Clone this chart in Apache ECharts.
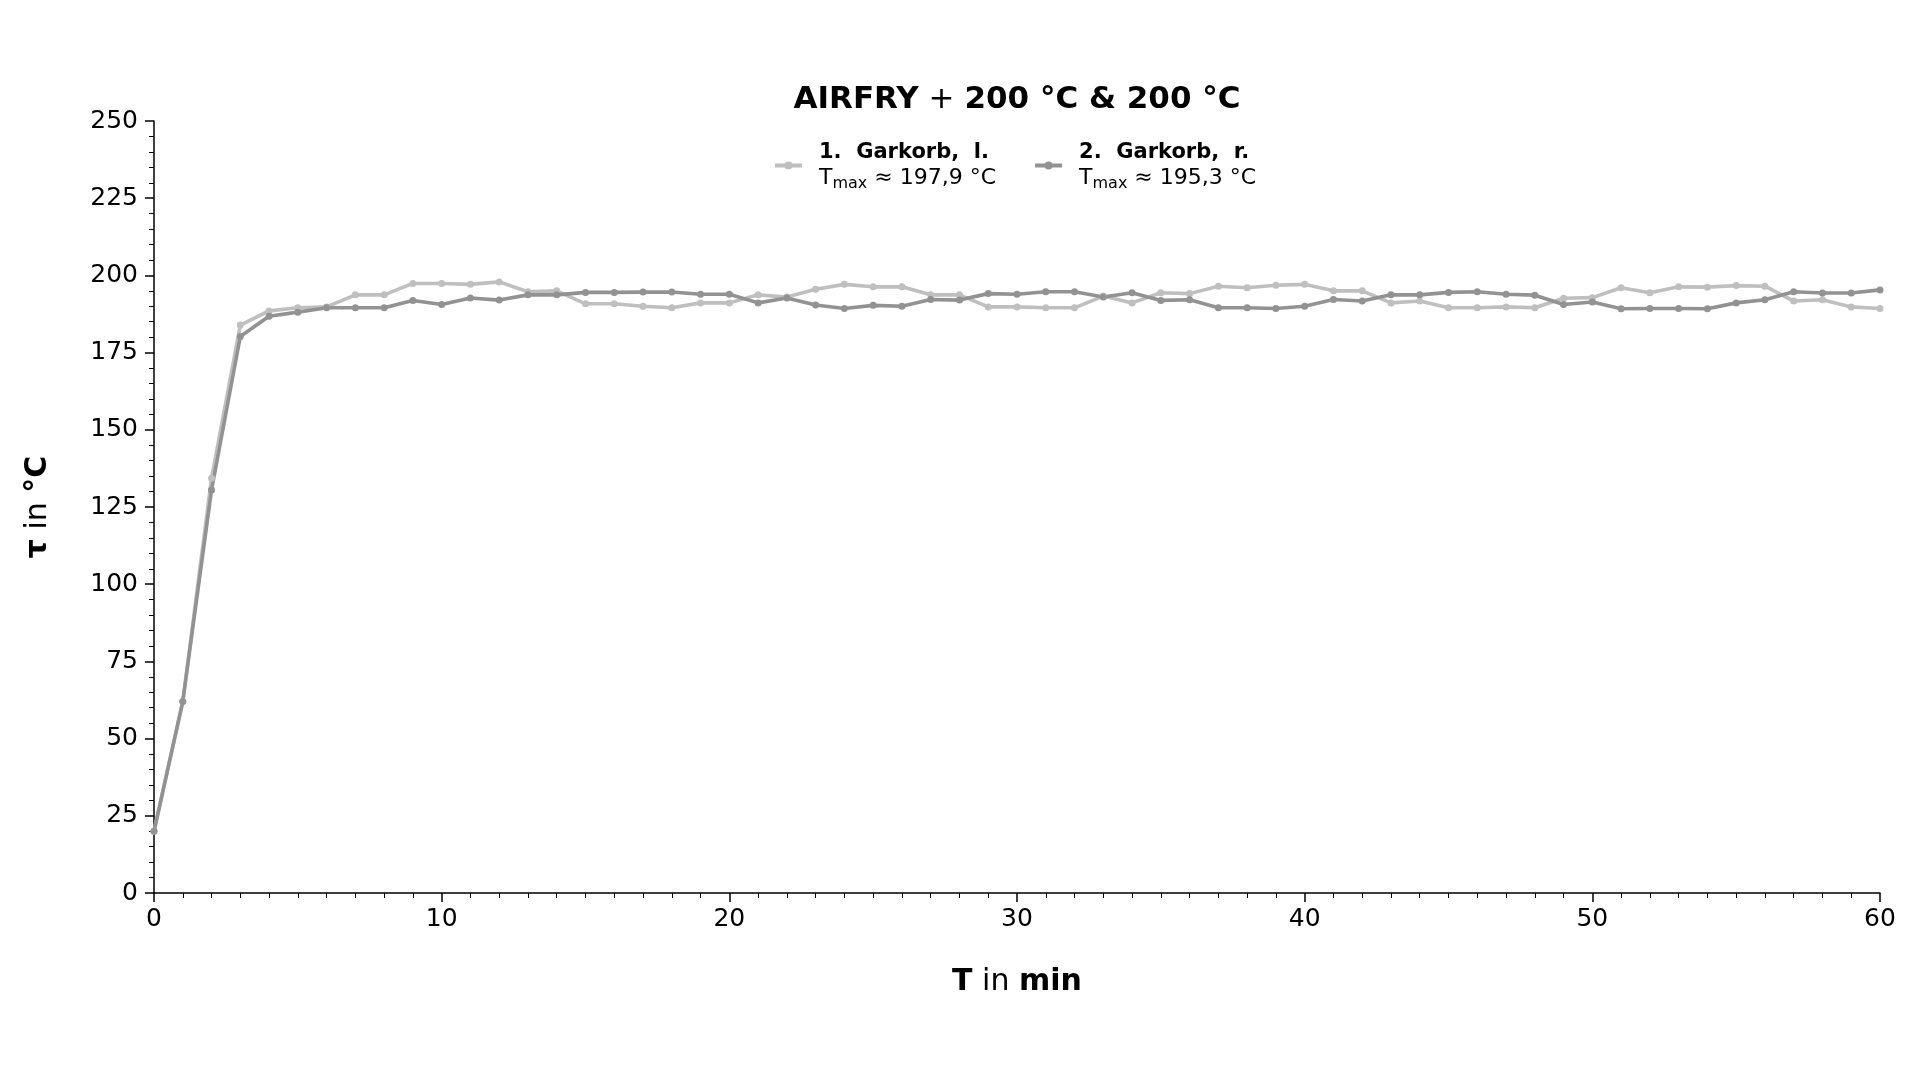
<!DOCTYPE html>
<html>
<head>
<meta charset="utf-8">
<script src="https://cdn.jsdelivr.net/npm/echarts@6/dist/echarts.min.js"></script>
<style>html,body{margin:0;padding:0;background:#fff}#c{width:1920px;height:1080px}</style>
</head>
<body>
<div id="c"></div>
<script>
const minutes = [0,1,2,3,4,5,6,7,8,9,10,11,12,13,14,15,16,17,18,19,20,21,22,23,24,25,26,27,28,29,30,31,32,33,34,35,36,37,38,39,40,41,42,43,44,45,46,47,48,49,50,51,52,53,54,55,56,57,58,59,60];
const basketLeft = [20,62,134.3,183.9,188.5,189.5,189.8,193.7,193.7,197.4,197.4,197.1,197.9,194.7,195.0,190.8,190.8,190.0,189.5,191.1,191.1,193.7,193.0,195.5,197.1,196.3,196.3,193.7,193.7,189.8,189.8,189.5,189.5,193.3,191.1,194.4,194.1,196.5,196.0,196.8,197.1,195.0,195.0,191.1,191.7,189.5,189.5,189.8,189.5,192.6,192.8,196.0,194.4,196.3,196.2,196.7,196.5,191.7,192.1,189.8,189.3];
const basketRight = [20,62,130.5,180.2,186.8,188.1,189.5,189.5,189.5,191.9,190.6,192.7,192.0,193.7,193.7,194.5,194.5,194.6,194.6,193.9,193.9,191.1,192.7,190.4,189.3,190.3,190.0,192.2,192.0,194.1,193.9,194.7,194.7,193.0,194.4,191.9,192.1,189.5,189.5,189.3,190.0,192.2,191.7,193.7,193.7,194.5,194.7,193.9,193.6,190.6,191.4,189.2,189.3,189.3,189.2,191.1,192.1,194.7,194.3,194.3,195.3];
const seriesNames = ['1. Garkorb, l.', '2. Garkorb, r.'];
const tmaxLabels = ['197,9', '195,3'];
const xTicks = [0,10,20,30,40,50,60];
const yTicks = [0,25,50,75,100,125,150,175,200,225,250];

const FONT = 'DejaVu Sans';
const chart = echarts.init(document.getElementById('c'));
const toPairs = arr => minutes.map((m, i) => [m, arr[i]]);

chart.setOption({
  animation: false,
  backgroundColor: '#ffffff',
  title: {
    text: '{b|AIRFRY} + {b|200 °C & 200 °C}',
    left: 1017, top: 84, textAlign: 'center', padding: 0,
    textStyle: {
      fontFamily: FONT, fontSize: 31, fontWeight: 'normal', color: '#000',
      rich: { b: { fontFamily: FONT, fontSize: 31, fontWeight: 'bold', color: '#000' } }
    }
  },
  legend: {
    top: 137, left: 768,
    itemWidth: 27, itemHeight: 10, itemGap: 37,
    data: seriesNames,
    lineStyle: { width: 4 },
    formatter: function (name) {
      const i = seriesNames.indexOf(name);
      const parts = name.split(' ');
      return '{b|' + parts.join('  ') + '}\n{n|T}{s|max}{n| ≈ ' + tmaxLabels[i] + ' °C}';
    },
    textStyle: {
      fontFamily: FONT, fontSize: 22, color: '#000', padding: [0, 0, 0, 12],
      rich: {
        b: { fontFamily: FONT, fontSize: 21, fontWeight: 'bold', color: '#000', lineHeight: 26 },
        n: { fontFamily: FONT, fontSize: 22, color: '#000', lineHeight: 26 },
        s: { fontFamily: FONT, fontSize: 16, color: '#000', lineHeight: 26, verticalAlign: 'bottom' }
      }
    }
  },
  grid: { left: 154, right: 40, top: 121, bottom: 187, containLabel: false },
  xAxis: {
    type: 'value', min: 0, max: 60, interval: 10,
    name: '{b|T} in {b|min}', nameLocation: 'middle', nameGap: 74,
    nameTextStyle: {
      fontFamily: FONT, fontSize: 30, color: '#000',
      rich: { b: { fontFamily: FONT, fontSize: 30, fontWeight: 'bold', color: '#000' } }
    },
    axisLine: { show: true, lineStyle: { color: '#000', width: 1.5 } },
    axisTick: { show: true, inside: false, length: 9, lineStyle: { color: '#000', width: 1.5 } },
    minorTick: { show: true, splitNumber: 10, length: 5, lineStyle: { color: '#000', width: 1 } },
    splitLine: { show: false },
    axisLabel: {
      fontFamily: FONT, fontSize: 25, color: '#000', margin: 14
    }
  },
  yAxis: {
    type: 'value', min: 0, max: 250, interval: 25,
    name: '{b|τ} in {b|°C}', nameLocation: 'middle', nameGap: 101, nameRotate: 90,
    nameTextStyle: {
      fontFamily: FONT, fontSize: 30, color: '#000',
      rich: { b: { fontFamily: FONT, fontSize: 30, fontWeight: 'bold', color: '#000' } }
    },
    axisLine: { show: true, lineStyle: { color: '#000', width: 1.5 } },
    axisTick: { show: true, inside: false, length: 9, lineStyle: { color: '#000', width: 1.5 } },
    minorTick: { show: true, splitNumber: 5, length: 5, lineStyle: { color: '#000', width: 1 } },
    splitLine: { show: false },
    axisLabel: { fontFamily: FONT, fontSize: 25, color: '#000', margin: 16 }
  },
  series: [
    {
      name: seriesNames[0], type: 'line', data: toPairs(basketLeft),
      symbol: 'circle', symbolSize: 7, showSymbol: true,
      itemStyle: { color: '#bfbfbf' },
      lineStyle: { color: '#bfbfbf', width: 3.6 }
    },
    {
      name: seriesNames[1], type: 'line', data: toPairs(basketRight),
      symbol: 'circle', symbolSize: 7, showSymbol: true,
      itemStyle: { color: '#929292' },
      lineStyle: { color: '#929292', width: 3.6 }
    }
  ]
});
</script>
</body>
</html>
